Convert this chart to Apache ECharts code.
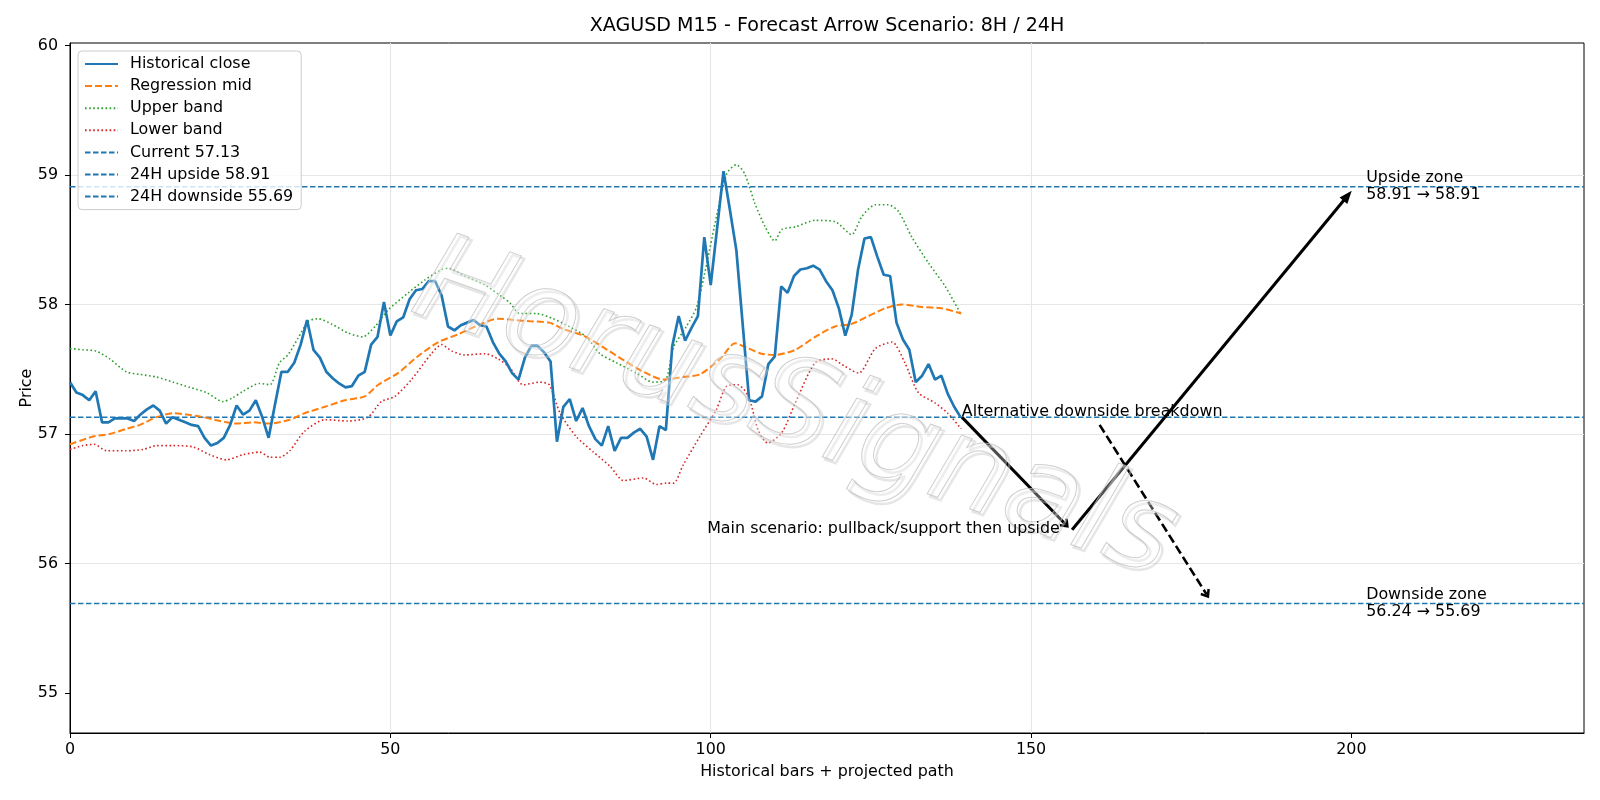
<!DOCTYPE html>
<html>
<head>
<meta charset="utf-8">
<title>XAGUSD M15 - Forecast Arrow Scenario</title>
<script src="https://cdn.jsdelivr.net/npm/echarts@6/dist/echarts.min.js"></script>
<style>
    html, body { margin: 0; padding: 0; background: #fff; }
    #chart { width: 1600px; height: 800px; }
</style>
</head>
<body>
<div id="chart"></div>
<script>
//////////////////////////////////////////////////////////////////
// [ Data ]

// close per bar, bars 0..139
const closeValues = [
    57.40, 57.32, 57.30, 57.26, 57.33, 57.09, 57.09, 57.12, 57.12, 57.12,
    57.10, 57.15, 57.19, 57.22, 57.18, 57.08, 57.13, 57.11, 57.09, 57.07,
    57.06, 56.97, 56.91, 56.93, 56.97, 57.07, 57.22, 57.15, 57.18, 57.26,
    57.13, 56.97, 57.23, 57.48, 57.48, 57.55, 57.69, 57.88, 57.65, 57.59,
    57.48, 57.43, 57.39, 57.36, 57.37, 57.45, 57.48, 57.69, 57.75, 58.02,
    57.76, 57.87, 57.90, 58.04, 58.11, 58.12, 58.18, 58.18, 58.07, 57.83,
    57.80, 57.84, 57.86, 57.88, 57.84, 57.83, 57.71, 57.62, 57.56, 57.47,
    57.42, 57.59, 57.68, 57.68, 57.63, 57.56, 56.94, 57.21, 57.27, 57.10,
    57.20, 57.06, 56.96, 56.91, 57.06, 56.87, 56.97, 56.97, 57.01, 57.04,
    56.98, 56.80, 57.06, 57.03, 57.68, 57.91, 57.72, 57.82, 57.91, 58.52,
    58.15, 58.59, 59.03, 58.73, 58.42, 57.84, 57.26, 57.25, 57.29, 57.54,
    57.60, 58.14, 58.09, 58.22, 58.27, 58.28, 58.30, 58.27, 58.18, 58.11,
    57.97, 57.76, 57.92, 58.27, 58.51, 58.52, 58.37, 58.23, 58.22, 57.86,
    57.73, 57.65, 57.40, 57.45, 57.54, 57.42, 57.45, 57.31, 57.21, 57.13
];

// regression mid, read at these bars
const midX = [0, 3.6, 6.2, 8.8, 10.9, 13.5, 16.1, 18.2, 20.8, 23.4, 26, 28.6, 31.2, 34.3, 36.6, 39.8, 42.9,
    46, 48.1, 51.2, 54.3, 57.5, 60.6, 63.7, 66.8, 69.4, 71.8, 74.8, 77, 80.1, 83.2, 86.4, 89.5, 92.6,
    95.7, 98.3, 101.5, 103.8, 105.9, 107.9, 110, 113.2, 116.3, 119.4, 122, 124.6, 127.2, 129.8, 133, 136.1, 139.1];
const midY = [56.92, 56.98, 57.00, 57.04, 57.07, 57.13, 57.16, 57.15, 57.13, 57.10, 57.08, 57.09, 57.08, 57.11, 57.16, 57.21, 57.26,
    57.29, 57.38, 57.47, 57.60, 57.71, 57.77, 57.84, 57.89, 57.88, 57.87, 57.86, 57.81, 57.76, 57.67, 57.57, 57.48, 57.42,
    57.44, 57.46, 57.58, 57.70, 57.66, 57.62, 57.61, 57.65, 57.75, 57.83, 57.85, 57.91, 57.97, 58.00, 57.98, 57.97, 57.93];

// upper band
const upperX = [0, 2, 4.1, 6.2, 8.8, 10.9, 13.5, 16.1, 18.7, 21.3, 23.9, 25.4, 27, 29.6, 31.2, 32.7, 34, 35.6, 37.2, 38.7,
    40.8, 43.4, 45.7, 47.6, 49.7, 52.8, 55.4, 58, 59, 61.6, 64.8, 67.4, 68.7, 70.2, 72.8, 75.4, 77.9, 80.6, 82.7, 85.3,
    88.4, 91, 93, 94.2, 96.2, 97.8, 99.4, 100.9, 102.5, 104, 105.3, 106.9, 108.5, 110, 111.1, 113.2, 116.3, 119.4, 122,
    123.6, 125.7, 127.7, 129.3, 131.4, 134, 136.6, 139.1];
const upperY = [57.66, 57.65, 57.64, 57.58, 57.48, 57.46, 57.44, 57.40, 57.36, 57.32, 57.25, 57.28, 57.33, 57.39, 57.38, 57.55, 57.61, 57.74, 57.87, 57.89,
    57.85, 57.78, 57.75, 57.83, 57.96, 58.09, 58.19, 58.27, 58.28, 58.22, 58.15, 58.06, 58.01, 57.93, 57.93, 57.89, 57.83, 57.75, 57.62, 57.55,
    57.47, 57.40, 57.42, 57.67, 57.83, 57.98, 58.32, 58.68, 59.01, 59.08, 59.01, 58.78, 58.60, 58.49, 58.58, 58.60, 58.65, 58.64, 58.54,
    58.68, 58.77, 58.77, 58.72, 58.52, 58.32, 58.14, 57.92];

// lower band
const lowerX = [0, 2, 3.8, 5.7, 8.8, 11.4, 13.5, 16.1, 19.2, 21.8, 24.4, 27, 29.6, 31.2, 32.7, 34.3, 36.6, 39.8, 43.4, 46.5,
    48.6, 50.7, 53.3, 56.4, 58, 59.6, 61.6, 64.8, 66.8, 68.7, 70.7, 73.3, 74.8, 76.5, 79, 81.7, 84.3, 86.4, 89.5, 91.5,
    93.1, 94.2, 95.7, 98.3, 100.9, 102.5, 104.2, 105.9, 107.4, 108.9, 111.1, 113.2, 116.3, 118.9, 121, 123.1, 125.7, 128.3,
    130.3, 132.4, 135, 137, 139.1];
const lowerY = [56.88, 56.91, 56.92, 56.87, 56.87, 56.88, 56.91, 56.91, 56.90, 56.84, 56.80, 56.84, 56.86, 56.82, 56.82, 56.87, 57.02, 57.11, 57.10, 57.13,
    57.25, 57.29, 57.42, 57.62, 57.69, 57.64, 57.61, 57.62, 57.58, 57.51, 57.38, 57.40, 57.38, 57.16, 56.98, 56.86, 56.75, 56.64, 56.66, 56.61,
    56.62, 56.62, 56.76, 56.98, 57.19, 57.37, 57.38, 57.29, 57.03, 56.93, 57.01, 57.24, 57.55, 57.58, 57.52, 57.47, 57.66, 57.71,
    57.55, 57.32, 57.24, 57.16, 57.04];

// levels
const currentLevel = 57.13;
const upsideLevel = 58.91;
const downsideLevel = 55.69;
const pullbackLevel = 56.24;

// projected path arrows [bar, price]
const mainPath = [[139.2, 57.13], [155.4, 56.3]];
const upsidePath = [[156.4, 56.26], [199.4, 58.84]];
const altPath = [[160.7, 57.07], [177.4, 55.76]];

const xTicks = [0, 50, 100, 150, 200];
const yTicks = [55, 56, 57, 58, 59, 60];

//////////////////////////////////////////////////////////////////
// [ Chart ]

const FONT = 'DejaVu Sans';
const FS = 15.9;
const X_MAX = 236.3;
const BLUE = '#1f77b4';
const OPEN_HEAD = 'path://M5,0 L10,8 L8.4,10 L5,4.6 L1.6,10 L0,8 Z';
const FILLED_HEAD = 'path://M5,0 L10,10 L0,10 Z';

function zip(xs, ys) {
    return xs.map(function (x, i) { return [x, ys[i]]; });
}

function levelLine(v) {
    return [[0, v], [X_MAX, v]];
}

var chart = echarts.init(document.getElementById('chart'));

var solidArrow = { color: '#000', width: 3, type: 'solid', opacity: 1 };
var dashedArrow = { color: '#000', width: 2.6, type: [9, 4], opacity: 1 };

var levelStyle = { color: BLUE, width: 1.5, type: [5.5, 2.5] };

var names = [
    'Historical close', 'Regression mid', 'Upper band', 'Lower band',
    'Current ' + currentLevel.toFixed(2),
    '24H upside ' + upsideLevel.toFixed(2),
    '24H downside ' + downsideLevel.toFixed(2)
];

var options = {
    animation: false,
    backgroundColor: '#fff',
    textStyle: { fontFamily: FONT },
    grid: {
        left: 70, right: 16, top: 43, bottom: 67,
        show: true, borderColor: '#000', borderWidth: 1, backgroundColor: 'transparent'
    },
    legend: {
        data: names,
        orient: 'vertical',
        left: 78, top: 51,
        padding: [5, 8, 5, 6],
        itemGap: 6.1,
        itemWidth: 33, itemHeight: 14,
        itemStyle: { opacity: 0, borderWidth: 0 },
        backgroundColor: 'rgba(255,255,255,0.8)',
        borderColor: '#cccccc', borderWidth: 1, borderRadius: 4,
        textStyle: { fontFamily: FONT, fontSize: FS, color: '#000', lineHeight: 16, padding: [0, 0, 0, 7] }
    },
    xAxis: {
        type: 'value', min: 0, max: X_MAX,
        name: 'Historical bars + projected path',
        nameLocation: 'middle', nameGap: 31, nameMoveOverlap: false,
        nameTextStyle: { fontFamily: FONT, fontSize: FS, color: '#000' },
        axisLine: { show: true, onZero: false, lineStyle: { color: '#000', width: 1 } },
        axisTick: { show: true, length: 5, customValues: xTicks, lineStyle: { color: '#000', width: 1 } },
        axisLabel: { customValues: xTicks, color: '#000', fontSize: FS, fontFamily: FONT, margin: 9 },
        splitLine: { show: true, showMinLine: false, showMaxLine: false, lineStyle: { color: '#e6e6e6', width: 1.1 } }
    },
    yAxis: {
        type: 'value', min: 54.69, max: 60.02,
        name: 'Price',
        nameLocation: 'middle', nameGap: 35, nameMoveOverlap: false,
        nameTextStyle: { fontFamily: FONT, fontSize: FS, color: '#000' },
        axisLine: { show: true, onZero: false, lineStyle: { color: '#000', width: 1 } },
        axisTick: { show: true, length: 5, customValues: yTicks, lineStyle: { color: '#000', width: 1 } },
        axisLabel: { customValues: yTicks, color: '#000', fontSize: FS, fontFamily: FONT, margin: 12 },
        splitLine: { show: true, showMinLine: false, showMaxLine: false, lineStyle: { color: '#e6e6e6', width: 1.1 } }
    },
    series: [
        {
            name: names[0], type: 'line', data: closeValues.map(function (v, i) { return [i, v]; }),
            symbol: 'none', z: 5,
            itemStyle: { color: BLUE }, lineStyle: { color: BLUE, width: 2.7 }
        },
        {
            name: names[1], type: 'line', data: zip(midX, midY), smooth: 0.25,
            symbol: 'none', z: 4,
            itemStyle: { color: '#ff7f0e' }, lineStyle: { color: '#ff7f0e', width: 2, type: [7, 3] }
        },
        {
            name: names[2], type: 'line', data: zip(upperX, upperY), smooth: 0.25,
            symbol: 'none', z: 3,
            itemStyle: { color: '#2ca02c' }, lineStyle: { color: '#2ca02c', width: 1.6, type: [1.6, 2.5] }
        },
        {
            name: names[3], type: 'line', data: zip(lowerX, lowerY), smooth: 0.25,
            symbol: 'none', z: 3,
            itemStyle: { color: '#d62728' }, lineStyle: { color: '#d62728', width: 1.6, type: [1.6, 2.5] }
        },
        {
            name: names[4], type: 'line', data: levelLine(currentLevel), symbol: 'none', z: 3,
            itemStyle: { color: BLUE }, lineStyle: levelStyle
        },
        {
            name: names[5], type: 'line', data: levelLine(upsideLevel), symbol: 'none', z: 3,
            itemStyle: { color: BLUE }, lineStyle: levelStyle
        },
        {
            name: names[6], type: 'line', data: levelLine(downsideLevel), symbol: 'none', z: 3,
            itemStyle: { color: BLUE }, lineStyle: levelStyle
        },
        {
            // projected path arrows
            name: 'arrows', type: 'line', data: [], z: 6,
            markLine: {
                silent: true,
                animation: false,
                label: { show: false },
                emphasis: { disabled: true },
                data: [
                    [
                        { coord: mainPath[0], symbol: 'none', lineStyle: solidArrow },
                        { coord: mainPath[1], symbol: OPEN_HEAD, symbolSize: [11, 9], lineStyle: solidArrow }
                    ],
                    [
                        { coord: upsidePath[0], symbol: 'none', lineStyle: solidArrow },
                        { coord: upsidePath[1], symbol: FILLED_HEAD, symbolSize: [10, 13], lineStyle: solidArrow }
                    ],
                    [
                        { coord: altPath[0], symbol: 'none', lineStyle: dashedArrow },
                        { coord: altPath[1], symbol: OPEN_HEAD, symbolSize: [11, 9], lineStyle: dashedArrow }
                    ]
                ]
            }
        }
    ]
};

chart.setOption(options);

//////////////////////////////////////////////////////////////////
// [ Title, notes and watermark ]

function px(pt) {
    return chart.convertToPixel({ gridIndex: 0 }, pt);
}

var notes = [
    { text: 'Alternative downside breakdown', at: [139.2, currentLevel], align: 'left', va: 'bottom', dy: 3 },
    { text: 'Main scenario: pullback/support then upside', at: [154.5, 56.28], align: 'right', va: 'middle', dy: 2 },
    { text: 'Upside zone\n' + upsideLevel.toFixed(2) + ' → ' + upsideLevel.toFixed(2), at: [202.3, upsideLevel], align: 'left', va: 'middle', dy: 0 },
    { text: 'Downside zone\n' + pullbackLevel.toFixed(2) + ' → ' + downsideLevel.toFixed(2), at: [202.3, downsideLevel], align: 'left', va: 'middle', dy: 0 }
];

var graphics = [
    {
        type: 'text', x: 827, y: 26, z: 10,
        style: {
            text: 'XAGUSD M15 - Forecast Arrow Scenario: 8H / 24H',
            font: '19.1px "DejaVu Sans"', fill: '#000', align: 'center', verticalAlign: 'middle'
        }
    },
    // watermark: soft shadow, then thin outline
    {
        type: 'text', x: 797, y: 416, rotation: -0.34, z: 50, silent: true,
        style: {
            text: 'HorusSignals', font: 'italic 122px "DejaVu Sans"',
            fill: 'rgba(0,0,0,0)', stroke: 'rgba(200,200,200,0.45)', lineWidth: 2.5,
            align: 'center', verticalAlign: 'middle'
        }
    },
    {
        type: 'text', x: 794, y: 413, rotation: -0.34, z: 51, silent: true,
        style: {
            text: 'HorusSignals', font: 'italic 122px "DejaVu Sans"',
            fill: 'rgba(255,255,255,0.3)', stroke: 'rgba(175,175,175,0.7)', lineWidth: 1,
            align: 'center', verticalAlign: 'middle'
        }
    }
];

notes.forEach(function (n) {
    var p = px(n.at);
    graphics.push({
        type: 'text', x: p[0], y: p[1] + n.dy, z: 60,
        style: {
            text: n.text, font: FS + 'px "DejaVu Sans"', fill: '#000',
            align: n.align, verticalAlign: n.va, lineHeight: 17
        }
    });
});

chart.setOption({ graphic: graphics });

window.addEventListener('resize', function () {
    chart.resize();
});
</script>
</body>
</html>
